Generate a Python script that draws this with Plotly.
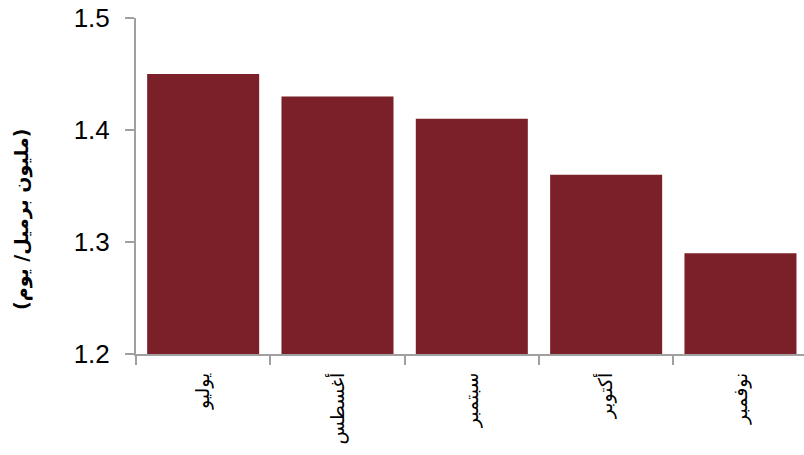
import plotly.graph_objects as go

# Monthly production, million barrels per day
months = ["يوليو", "أغسطس", "سبتمبر", "أكتوبر", "نوفمبر"]
production = [1.45, 1.43, 1.41, 1.36, 1.29]

y_ticks = [1.2, 1.3, 1.4, 1.5]
y_tick_text = ["1.2", "1.3", "1.4", "1.5"]
y_title = "(مليون برميل/ يوم)"

bar_color = "#7B2029"
axis_color = "#A0A0A0"
font_family = "Liberation Sans, Arial, DejaVu Sans, sans-serif"

fig = go.Figure(
    go.Bar(
        x=months,
        y=production,
        base=0,
        marker=dict(color=bar_color, line=dict(width=0)),
        hoverinfo="skip",
    )
)

fig.update_layout(
    width=804,
    height=455,
    margin=dict(l=136, r=0, t=18, b=101),
    paper_bgcolor="white",
    plot_bgcolor="white",
    showlegend=False,
    bargap=0.166,
    font=dict(family=font_family, color="#000000"),
)

fig.update_xaxes(
    type="category",
    range=[-0.5, 4.473],
    showline=True,
    linecolor=axis_color,
    linewidth=2,
    showgrid=False,
    ticks="outside",
    ticklen=9,
    tickwidth=2,
    tickcolor=axis_color,
    tickson="boundaries",
    tickangle=-90,
    tickfont=dict(size=19, family="DejaVu Sans, sans-serif", color="#000000"),
    ticklabelstandoff=9,
)

fig.update_yaxes(
    range=[1.2, 1.5],
    tickvals=y_ticks,
    ticktext=y_tick_text,
    showline=True,
    linecolor=axis_color,
    linewidth=2,
    showgrid=False,
    zeroline=False,
    ticks="outside",
    ticklen=9,
    tickwidth=2,
    tickcolor=axis_color,
    tickfont=dict(size=26, family=font_family, color="#000000"),
    ticklabelstandoff=10,
)

fig.add_annotation(
    text=y_title,
    xref="paper",
    yref="paper",
    x=-0.1707,
    y=0.402,
    xanchor="center",
    yanchor="middle",
    textangle=-90,
    showarrow=False,
    font=dict(size=19, family="DejaVu Sans, sans-serif", color="#000000", weight="bold"),
)

fig.write_html("out.html")
